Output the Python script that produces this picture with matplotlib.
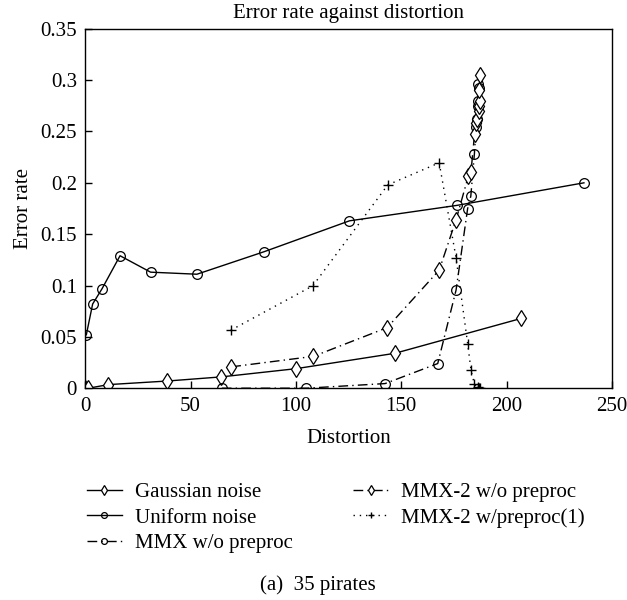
import matplotlib
matplotlib.use("Agg")
import matplotlib.pyplot as plt

plt.rcParams['font.family'] = ['Liberation Serif', 'DejaVu Serif']

title = "Error rate against distortion"
xlabel = "Distortion"
ylabel = "Error rate"
caption = "(a)  35 pirates"

gauss_x = [0, 1.5, 11, 39, 64.5, 100, 147, 207]
gauss_y = [0, 0, 0.0035, 0.007, 0.011, 0.019, 0.034, 0.068]

unif_x = [0.5, 3.5, 8, 16.5, 31, 53, 85, 125.4, 176.3, 236.7]
unif_y = [0.052, 0.082, 0.097, 0.129, 0.113, 0.111, 0.133, 0.163, 0.178, 0.200]

mmx_x = [64.8, 105, 142.3, 167.3, 176, 181.5, 183, 184.7, 185.5, 186, 186.5, 186.3, 186.8, 186.5]
mmx_y = [0, 0, 0.0045, 0.024, 0.0955, 0.175, 0.187, 0.228, 0.254, 0.262, 0.275, 0.28, 0.292, 0.296]

mmx2_x = [69.3, 108.3, 143.3, 168, 176, 181.9, 183.1, 184.8, 185.3, 186, 186.7, 187, 187.2, 186.9, 187.5]
mmx2_y = [0.0208, 0.031, 0.059, 0.115, 0.164, 0.207, 0.211, 0.248, 0.258, 0.262, 0.27, 0.275, 0.28, 0.29, 0.305]

mmx2p_x = [69.1, 108, 143.6, 168, 176, 181.5, 183.1, 184.7, 186.2, 186.6, 187, 187.4]
mmx2p_y = [0.0565, 0.0997, 0.198, 0.2195, 0.127, 0.0435, 0.0175, 0.004, 0.001, 0, 0, 0]

labels = ["Gaussian noise", "Uniform noise", "MMX w/o preproc",
          "MMX-2 w/o preproc", "MMX-2 w/preproc(1)"]

fig = plt.figure(figsize=(6.27, 6.0), dpi=100)
ax = fig.add_axes([0.136, 0.353, 0.840, 0.599])

lw = 1.0
ms = 7
ax.plot(gauss_x, gauss_y, color='black', lw=lw, marker='d', ms=8,
        mfc='white', mec='black', mew=0.9, label=labels[0])
ax.plot(unif_x, unif_y, color='black', lw=lw, marker='o', ms=ms,
        mfc='none', mec='black', mew=0.9, label=labels[1])
ax.plot(mmx_x, mmx_y, color='black', lw=lw, marker='o', ms=ms,
        mfc='none', mec='black', mew=0.9, dashes=[7, 3, 1, 3], label=labels[2])
ax.plot(mmx2_x, mmx2_y, color='black', lw=lw, marker='d', ms=8,
        mfc='white', mec='black', mew=0.9, dashes=[7, 3, 1, 3], label=labels[3])
ax.plot(mmx2p_x, mmx2p_y, color='black', lw=lw, marker='+', ms=7,
        mew=1.0, dashes=[1, 3.5], label=labels[4])

ax.set_xlim(0, 250)
ax.set_ylim(0, 0.35)
ax.set_xticks([0, 50, 100, 150, 200, 250])
ax.set_xticklabels(['0', '50', '100', '150', '200', '250'])
ax.set_yticks([0, 0.05, 0.1, 0.15, 0.2, 0.25, 0.3, 0.35])
ax.set_yticklabels(['0', '0.05', '0.1', '0.15', '0.2', '0.25', '0.3', '0.35'])
ax.tick_params(direction='in', length=5, width=1, labelsize=15, top=False, right=False, pad=6)
for s in ax.spines.values():
    s.set_linewidth(1.0)

ax.set_title(title, fontsize=15, pad=8)
ax.set_xlabel(xlabel, fontsize=15, labelpad=10)
ax.set_ylabel(ylabel, fontsize=15, labelpad=5)

leg = fig.legend(loc='upper left', bbox_to_anchor=(0.115, 0.22), ncol=2,
                 frameon=False, fontsize=15, markerscale=0.6,
                 handlelength=1.7, handletextpad=0.6, columnspacing=2.9,
                 labelspacing=0.28, borderpad=0.2)

fig.text(0.507, 0.008, caption, ha='center', va='bottom', fontsize=15)

fig.savefig("out.png", dpi=100)
